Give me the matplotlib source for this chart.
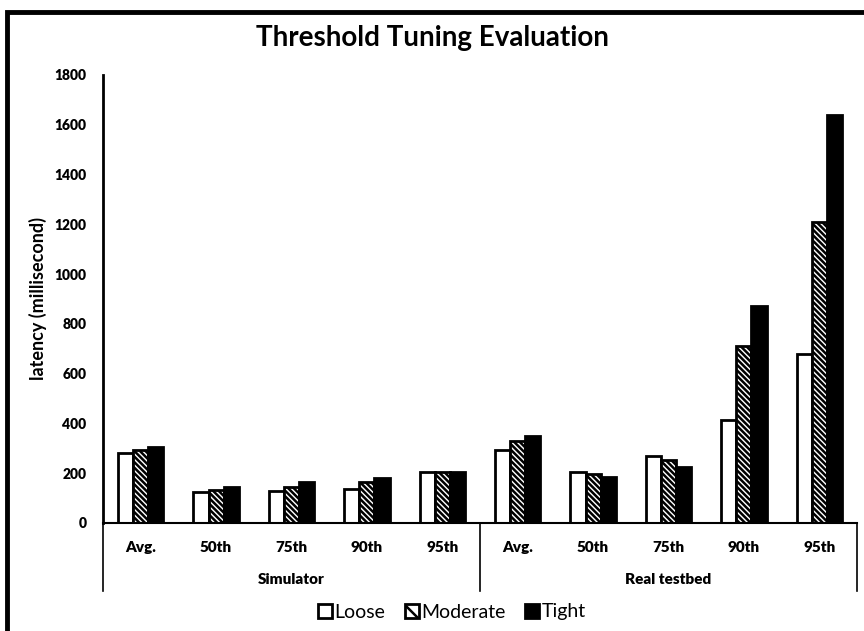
import matplotlib
matplotlib.use("Agg")
import matplotlib.pyplot as plt
import matplotlib.patches as mpatches
import matplotlib.transforms as mtransforms
import numpy as np

plt.rcParams['font.family'] = ['Lato', 'DejaVu Sans']
plt.rcParams['hatch.linewidth'] = 1.8

categories = ["Avg.", "50th", "75th", "90th", "95th", "Avg.", "50th", "75th", "90th", "95th"]
groups = ["Simulator", "Real testbed"]
loose = [281, 123, 130, 138, 205, 294, 204, 268, 412, 680]
moderate = [292, 131, 146, 166, 205, 329, 198, 253, 712, 1211]
tight = [305, 146, 166, 180, 205, 351, 185, 226, 871, 1640]
series_names = ["Loose", "Moderate", "Tight"]
yticks = [0, 200, 400, 600, 800, 1000, 1200, 1400, 1600, 1800]

fig = plt.figure(figsize=(8.64, 6.31), dpi=100)
ax = fig.add_axes([103/864, 1-523/631, (857-103)/864, (523-75)/631])

x = np.arange(len(categories))
w = 0.2
hatch = "\\" * 6
ax.bar(x - w, loose, w, color="white", edgecolor="black", linewidth=2, label=series_names[0])
ax.bar(x, moderate, w, color="white", edgecolor="black", linewidth=2, hatch=hatch, label=series_names[1])
ax.bar(x + w, tight, w, color="black", edgecolor="black", linewidth=2, label=series_names[2])

ax.set_xlim(-0.5, len(categories) - 0.5)
ax.set_ylim(0, 1800)
ax.set_yticks(yticks)
ax.set_yticklabels([str(t) for t in yticks], fontsize=10, fontweight="heavy")
ax.tick_params(axis="y", length=0, pad=12)
ax.tick_params(axis="x", length=0)
ax.set_xticks([])
for s in ["top", "right"]:
    ax.spines[s].set_visible(False)
ax.spines["left"].set_linewidth(2)
ax.spines["bottom"].set_linewidth(1.5)

trans = mtransforms.blended_transform_factory(ax.transData, ax.transAxes)
for i, c in enumerate(categories):
    ax.text(i, -0.055, c, transform=trans, ha="center", va="center", fontsize=11, fontweight="heavy")
for gi, g in enumerate(groups):
    ax.text(gi * 5 + 2, -0.127, g, transform=trans, ha="center", va="center", fontsize=11, fontweight="heavy")
for xs in [-0.5, 4.5, 9.5]:
    ax.plot([xs, xs], [0, -0.152], transform=trans, color="black", linewidth=1.2, clip_on=False)

ax.set_ylabel("latency (millisecond)", fontsize=13, fontweight="bold", labelpad=5)

fig.text(0.5, 1 - 38/631, "Threshold Tuning Evaluation", ha="center", va="center", fontsize=20, fontweight="bold")

handles = [mpatches.Patch(facecolor="white", edgecolor="black", linewidth=2),
           mpatches.Patch(facecolor="white", edgecolor="black", linewidth=2, hatch="\\\\"),
           mpatches.Patch(facecolor="black", edgecolor="black", linewidth=2)]
fig.legend(handles, series_names, loc="center", bbox_to_anchor=(452/864, 1 - 612/631), ncol=3,
           frameon=False, fontsize=14, handlelength=0.7, handleheight=0.7, handletextpad=0.15,
           columnspacing=1.0)

border = mpatches.Rectangle((7/864, -0.2), 1.5, (1 - 12/631) + 0.2, transform=fig.transFigure,
                            fill=False, edgecolor="black", linewidth=3.5, clip_on=False)
fig.patches.append(border)

fig.savefig("out.png", dpi=100)
